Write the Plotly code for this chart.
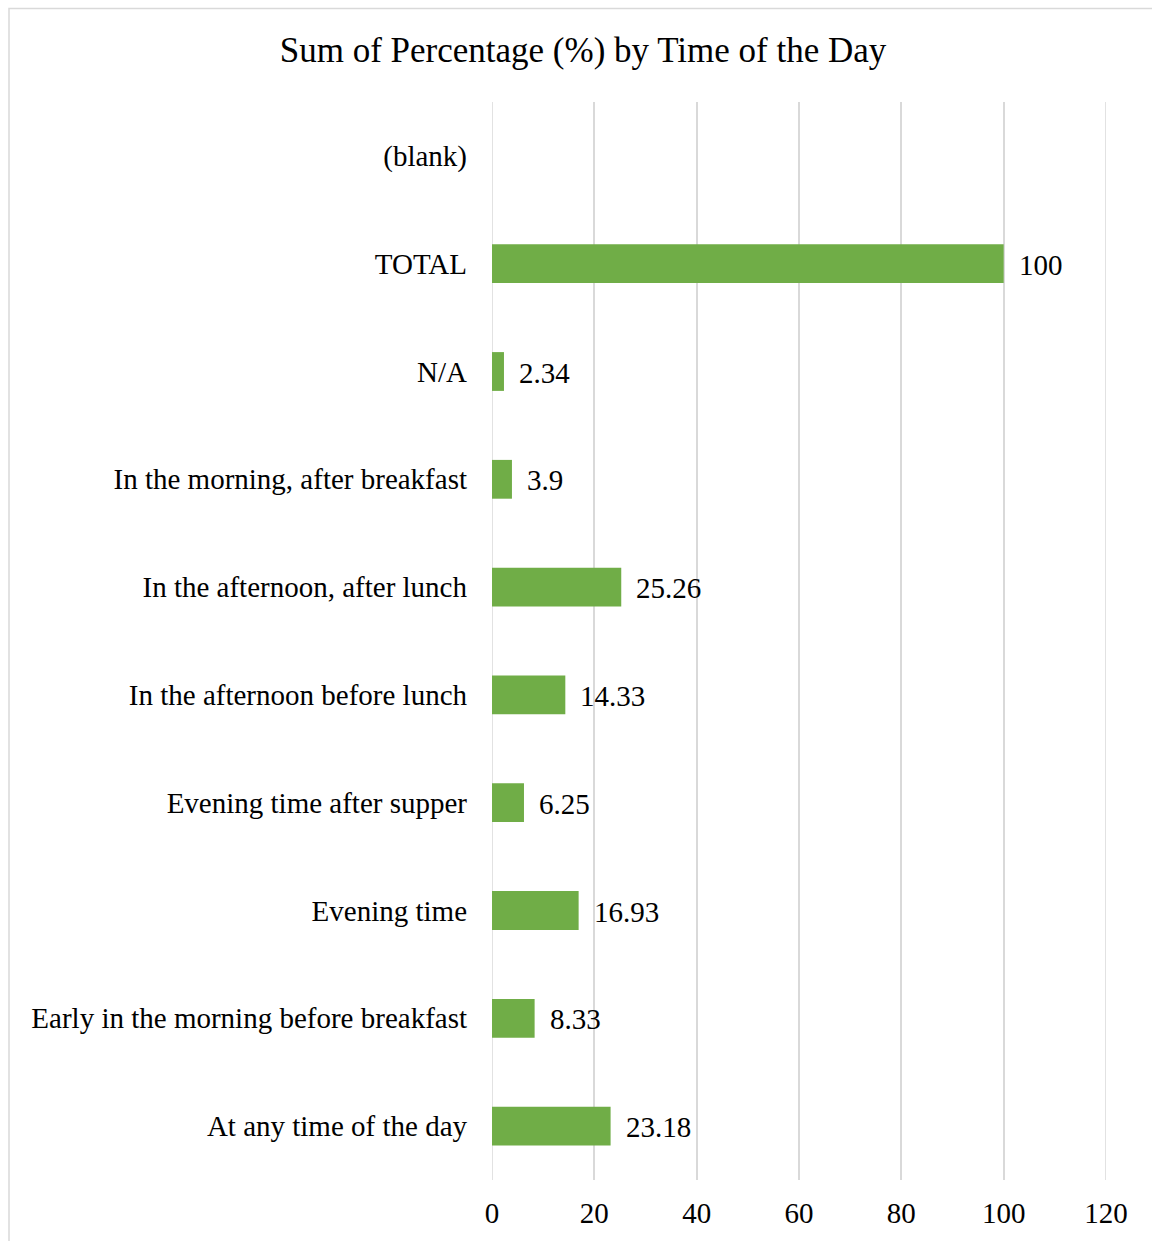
import plotly.graph_objects as go

# Time-of-day categories, listed bottom to top as drawn
categories = [
    "At any time of the day",
    "Early in the morning before breakfast",
    "Evening time",
    "Evening time after supper",
    "In the afternoon before lunch",
    "In the afternoon, after lunch",
    "In the morning, after breakfast",
    "N/A",
    "TOTAL",
    "(blank)",
]
percentages = [23.18, 8.33, 16.93, 6.25, 14.33, 25.26, 3.9, 2.34, 100, None]
x_ticks = [0, 20, 40, 60, 80, 100, 120]

FONT = "Liberation Serif, Times New Roman, serif"
GREEN = "#70AD47"
GRID = "#D9D9D9"
LABEL_SIZE = 29

fig = go.Figure(
    go.Bar(
        x=percentages,
        y=categories,
        orientation="h",
        marker=dict(color=GREEN, line=dict(width=0)),
        width=0.36,
        hoverinfo="x+y",
    )
)

# Value labels to the right of each bar
annotations = []
for cat, val in zip(categories, percentages):
    if val is None:
        continue
    annotations.append(
        dict(
            x=val, y=cat, xref="x", yref="y",
            text=f"{val:g}", showarrow=False,
            xanchor="left", yanchor="middle", xshift=13, yshift=-1,
            font=dict(family=FONT, size=LABEL_SIZE, color="#000000"),
        )
    )

# Gridlines at the ends of the value range (plotly omits them at the axis limits)
edge_lines = [
    dict(
        type="line", xref="x", yref="paper",
        x0=v, x1=v, y0=0, y1=1,
        line=dict(color=GRID, width=1.5), layer="below",
    )
    for v in (x_ticks[0], x_ticks[-1])
]

TOP, BOTTOM = 102, 56
PLOT_H = 1241 - TOP - BOTTOM

fig.update_layout(
    width=1152,
    height=1241,
    paper_bgcolor="white",
    plot_bgcolor="white",
    margin=dict(l=492, r=46, t=TOP, b=BOTTOM),
    showlegend=False,
    title=dict(
        text="Sum of Percentage (%) by Time of the Day",
        x=583 / 1152, xanchor="center", xref="container",
        y=1 - 50 / 1241, yanchor="middle", yref="container",
        font=dict(family=FONT, size=35, color="#000000"),
    ),
    xaxis=dict(
        range=[0, 120],
        tickvals=x_ticks,
        showgrid=True, gridcolor=GRID, gridwidth=1.5,
        zeroline=False, showline=False,
        ticks="", ticklabelstandoff=13,
        tickfont=dict(family=FONT, size=LABEL_SIZE, color="#000000"),
        fixedrange=True,
    ),
    yaxis=dict(
        categoryorder="array", categoryarray=categories,
        showgrid=False, zeroline=False, showline=False,
        ticks="", ticklabelstandoff=24,
        tickfont=dict(family=FONT, size=LABEL_SIZE, color="#000000"),
        fixedrange=True,
    ),
    annotations=annotations,
    shapes=edge_lines + [
        # Chart-area border (extends past the right and bottom edges)
        dict(
            type="rect", xref="paper", yref="paper",
            x0=(9 - 492) / 614, x1=(1170 - 492) / 614,
            y0=(PLOT_H - (1260 - TOP)) / PLOT_H,
            y1=(PLOT_H - (8 - TOP)) / PLOT_H,
            line=dict(color=GRID, width=1.5), fillcolor="rgba(0,0,0,0)",
            layer="below",
        )
    ],
)

fig.write_html("out.html")
